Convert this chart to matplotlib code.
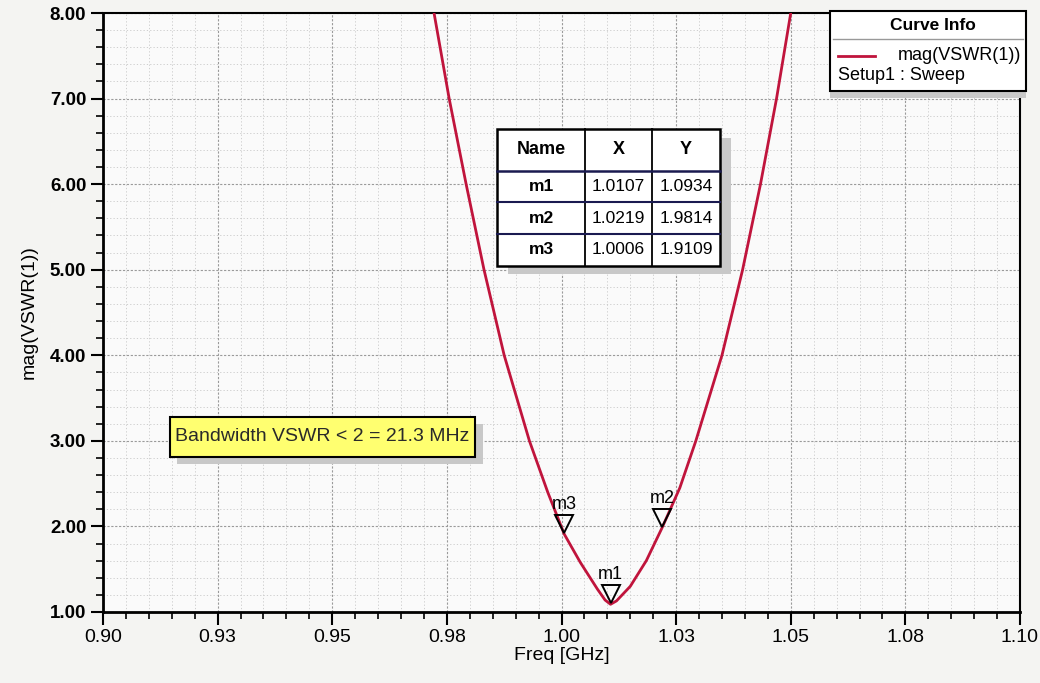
import matplotlib
matplotlib.use("Agg")
import matplotlib.pyplot as plt
from matplotlib.patches import Rectangle
from matplotlib.lines import Line2D
from matplotlib.transforms import offset_copy
from matplotlib.ticker import MultipleLocator

# ---- data ----
freq_ghz = [0.9722, 0.9755, 0.9792, 0.9831, 0.9875, 0.9930, 0.9970, 1.0006,
            1.0041, 1.0078, 1.0095, 1.0107, 1.0120, 1.0150, 1.0185, 1.0219,
            1.0258, 1.0293, 1.0350, 1.0395, 1.0434, 1.0469, 1.0500]
vswr = [8.00, 7.00, 6.00, 5.00, 4.00, 3.00, 2.40, 1.91,
        1.58, 1.27, 1.14, 1.09, 1.13, 1.30, 1.60, 1.98,
        2.45, 3.00, 4.00, 5.00, 6.00, 7.00, 8.00]

marker_names = ["m1", "m2", "m3"]
marker_x = [1.0107, 1.0219, 1.0006]
marker_y = [1.0934, 1.9814, 1.9109]

x_ticks = [0.900, 0.925, 0.950, 0.975, 1.000, 1.025, 1.050, 1.075, 1.100]
x_tick_labels = ["0.90", "0.93", "0.95", "0.98", "1.00", "1.03", "1.05", "1.08", "1.10"]
y_ticks = [1, 2, 3, 4, 5, 6, 7, 8]
y_tick_labels = ["1.00", "2.00", "3.00", "4.00", "5.00", "6.00", "7.00", "8.00"]

bandwidth_note = "Bandwidth VSWR < 2 = 21.3 MHz"
curve_name = "mag(VSWR(1))"
setup_name = "Setup1 : Sweep"

plt.rcParams['font.family'] = ['Liberation Sans', 'DejaVu Sans']
CURVE_RED = '#c0143c'

fig = plt.figure(figsize=(10.4, 6.83), dpi=100, facecolor='#f4f4f2')
ax = fig.add_axes([103/1040, 71/683, 917/1040, 599/683])
ax.set_facecolor('#fafafa')

ax.set_xlim(0.9, 1.1)
ax.set_ylim(1, 8)

ax.plot(freq_ghz, vswr, color=CURVE_RED, lw=2.0, zorder=3,
        solid_joinstyle='round', solid_capstyle='round')

# markers (hollow down-triangles whose tip sits on the curve)
for n, mx, my in zip(marker_names, marker_x, marker_y):
    tr = offset_copy(ax.transData, fig=fig, x=0, y=7, units='points')
    ax.plot([mx], [my], marker='v', ms=13.5, mfc='none', mec='black', mew=1.4,
            transform=tr, zorder=4, clip_on=False)
    ax.annotate(n, (mx, my), xytext=(0, 15), textcoords='offset points',
                ha='center', va='bottom', fontsize=13, zorder=4)

# ticks
ax.set_xticks(x_ticks)
ax.set_xticklabels(x_tick_labels, fontsize=14)
ax.set_yticks(y_ticks)
ax.set_yticklabels(y_tick_labels, fontweight='bold', fontsize=13.5)
ax.xaxis.set_minor_locator(MultipleLocator(0.005))
ax.yaxis.set_minor_locator(MultipleLocator(0.2))
ax.tick_params(which='major', direction='out', length=9, width=1.5, pad=3, color='black')
ax.tick_params(which='minor', direction='out', length=5, width=1.2, color='black')

ax.grid(which='major', color='#9a9a9a', lw=0.8, ls=(0, (2, 1.5)))
ax.grid(which='minor', color='#c8c8c8', lw=0.6, ls=(0, (1.5, 2.5)))
ax.set_axisbelow(True)

for side in ['left', 'bottom']:
    ax.spines[side].set_linewidth(2.0)
for side in ['top', 'right']:
    ax.spines[side].set_linewidth(1.5)

ax.set_xlabel("Freq [GHz]", fontsize=14, labelpad=1)
ax.set_ylabel(curve_name, fontsize=14)
ax.yaxis.set_label_coords(-0.071, 0.50)

# bandwidth note box
bx0, by0, bw, bh = 0.073, 0.259, 0.333, 0.067
ax.add_patch(Rectangle((bx0 + 0.008, by0 - 0.012), bw, bh, transform=ax.transAxes,
                       facecolor='#c8c8c8', edgecolor='none', zorder=5))
ax.add_patch(Rectangle((bx0, by0), bw, bh, transform=ax.transAxes,
                       facecolor='#ffff70', edgecolor='black', lw=1.5, zorder=6))
ax.text(bx0 + bw/2, by0 + bh/2, bandwidth_note, transform=ax.transAxes,
        ha='center', va='center', fontsize=14, color='#2a2a2a', zorder=7)

# marker table
tx = [0.4297, 0.5256, 0.5987, 0.673]
ty_top, ty_head = 0.806, 0.737
row_h = 0.053
ty_bot = ty_head - 3 * row_h
ax.add_patch(Rectangle((tx[0] + 0.012, ty_bot - 0.014), tx[3] - tx[0], ty_top - ty_bot,
                       transform=ax.transAxes, facecolor='#c8c8c8', edgecolor='none', zorder=5))
ax.add_patch(Rectangle((tx[0], ty_bot), tx[3] - tx[0], ty_top - ty_bot,
                       transform=ax.transAxes, facecolor='white', edgecolor='black', lw=1.8, zorder=6))
for xv in tx[1:3]:
    ax.add_line(Line2D([xv, xv], [ty_bot, ty_top], transform=ax.transAxes,
                       color='black', lw=1.3, zorder=7))
for k in range(3):
    yv = ty_head - k * row_h
    ax.add_line(Line2D([tx[0], tx[3]], [yv, yv], transform=ax.transAxes,
                       color='#1a1a50', lw=1.8 if k == 0 else 1.5, zorder=7))
headers = ["Name", "X", "Y"]
for j, h in enumerate(headers):
    ax.text((tx[j] + tx[j+1]) / 2, (ty_top + ty_head) / 2, h, transform=ax.transAxes,
            ha='center', va='center', fontsize=13, fontweight='bold', zorder=8)
for i, (n, mx, my) in enumerate(zip(marker_names, marker_x, marker_y)):
    yc = ty_head - (i + 0.5) * row_h
    ax.text((tx[0] + tx[1]) / 2, yc, n, transform=ax.transAxes, ha='center', va='center',
            fontsize=12.5, fontweight='bold', zorder=8)
    ax.text((tx[1] + tx[2]) / 2, yc, f"{mx:.4f}", transform=ax.transAxes, ha='center',
            va='center', fontsize=12.5, zorder=8)
    ax.text((tx[2] + tx[3]) / 2, yc, f"{my:.4f}", transform=ax.transAxes, ha='center',
            va='center', fontsize=12.5, zorder=8)

# curve info box (covers the top-right corner of the frame)
lx0, lx1 = 0.793, 1.006
ly_top, ly_bot = 1.003, 0.870
ax.add_patch(Rectangle((lx0, ly_bot - 0.012), lx1 - lx0, 0.012, transform=ax.transAxes,
                       facecolor='#c9c9c9', edgecolor='none', zorder=9, clip_on=False))
ax.add_patch(Rectangle((lx0, ly_bot), lx1 - lx0, ly_top - ly_bot, transform=ax.transAxes,
                       facecolor='white', edgecolor='black', lw=1.5, zorder=10, clip_on=False))
ax.text((lx0 + lx1) / 2 + 0.006, ly_top - 0.024, "Curve Info", transform=ax.transAxes,
        ha='center', va='center', fontsize=12.5, fontweight='bold', zorder=11)
ax.add_line(Line2D([lx0 + 0.003, lx1 - 0.003], [ly_top - 0.046, ly_top - 0.046],
                   transform=ax.transAxes, color='#999999', lw=1.0, zorder=11, clip_on=False))
ax.add_line(Line2D([lx0 + 0.009, lx0 + 0.049], [ly_top - 0.074, ly_top - 0.074],
                   transform=ax.transAxes, color=CURVE_RED, lw=2.0, zorder=11, clip_on=False))
ax.text(lx1 - 0.005, ly_top - 0.074, curve_name, transform=ax.transAxes,
        ha='right', va='center', fontsize=13, zorder=11)
ax.text(lx0 + 0.008, ly_top - 0.108, setup_name, transform=ax.transAxes,
        ha='left', va='center', fontsize=13, zorder=11)

fig.savefig("out.png", dpi=100, facecolor=fig.get_facecolor())
